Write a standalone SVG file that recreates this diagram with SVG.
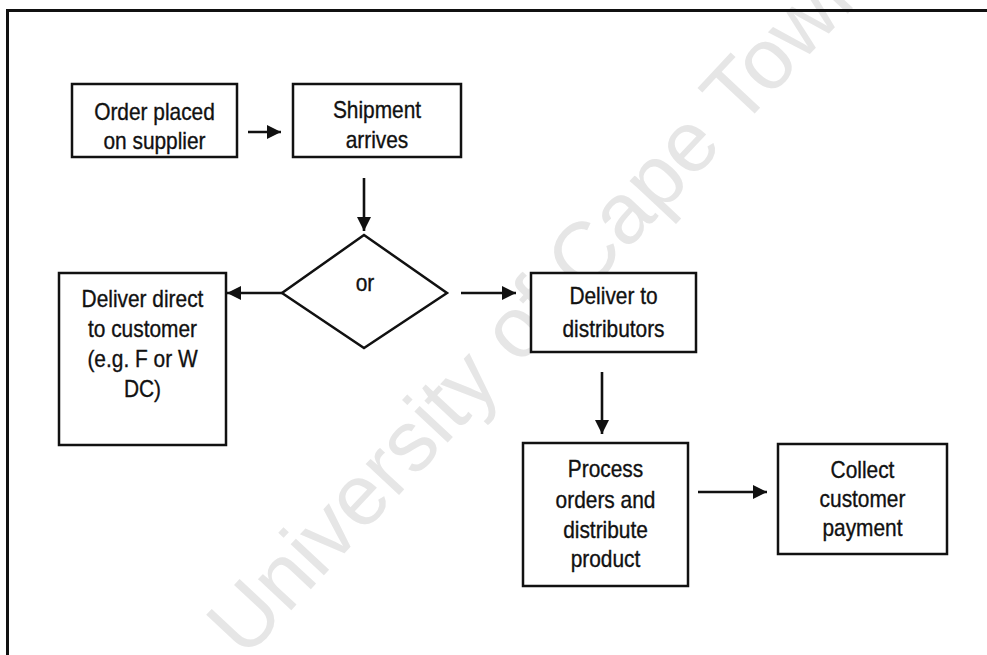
<svg xmlns="http://www.w3.org/2000/svg" width="987" height="655" viewBox="0 0 987 655">
<style>
.box{fill:#fff;stroke:#111;stroke-width:2.5}
.lbl{font-family:"Liberation Sans",Arial,sans-serif;font-size:24px;fill:#111;stroke:#111;stroke-width:0.35;text-anchor:middle}
.conn{stroke:#111;stroke-width:2.6;fill:none}
.wm{font-family:"Liberation Sans",Arial,sans-serif;font-size:86px;fill:#e6e6e6}
</style>
<defs>
<marker id="ah" viewBox="0 0 14 14" refX="14" refY="7" markerWidth="14" markerHeight="14" markerUnits="userSpaceOnUse" orient="auto">
<path d="M0,0 L14,7 L0,14 Z" fill="#111"/>
</marker>
</defs>
<rect x="0" y="0" width="987" height="655" fill="#fff"/>
<text class="wm" transform="translate(245,660) rotate(-47)">University of Cape Town</text>
<g id="frame">
<line x1="6" y1="10.5" x2="987" y2="10.5" stroke="#111" stroke-width="3"/>
<line x1="7.5" y1="9" x2="7.5" y2="655" stroke="#111" stroke-width="3"/>
</g>
<g id="connectors">
<line class="conn" x1="248" y1="132" x2="281" y2="132" marker-end="url(#ah)"/>
<line class="conn" x1="364" y1="178" x2="364" y2="231" marker-end="url(#ah)"/>
<line class="conn" x1="282" y1="293" x2="227" y2="293" marker-end="url(#ah)"/>
<line class="conn" x1="461" y1="293" x2="516" y2="293" marker-end="url(#ah)"/>
<line class="conn" x1="602" y1="372" x2="602" y2="434" marker-end="url(#ah)"/>
<line class="conn" x1="698" y1="492" x2="767" y2="492" marker-end="url(#ah)"/>
</g>
<g id="order">
<rect class="box" x="72" y="84" width="165" height="73"/>
<g transform="translate(154.5,0) scale(0.87,1)"><text class="lbl" x="0" y="120">Order placed</text><text class="lbl" x="0" y="149">on supplier</text></g>
</g>
<g id="shipment">
<rect class="box" x="293" y="84" width="168" height="73"/>
<g transform="translate(377,0) scale(0.87,1)"><text class="lbl" x="0" y="118">Shipment</text><text class="lbl" x="0" y="148">arrives</text></g>
</g>
<g id="decision">
<polygon class="box" points="364,235 447,293 364,348 282,293"/>
<g transform="translate(365,0) scale(0.87,1)"><text class="lbl" x="0" y="291">or</text></g>
</g>
<g id="direct">
<rect class="box" x="59" y="273" width="167" height="172"/>
<g transform="translate(142.5,0) scale(0.87,1)"><text class="lbl" x="0" y="307">Deliver direct</text><text class="lbl" x="0" y="337">to customer</text><text class="lbl" x="0" y="367">(e.g. F or W</text><text class="lbl" x="0" y="397">DC)</text></g>
</g>
<g id="distributors">
<rect class="box" x="531" y="273" width="165" height="79"/>
<g transform="translate(613.5,0) scale(0.87,1)"><text class="lbl" x="0" y="304">Deliver to</text><text class="lbl" x="0" y="337">distributors</text></g>
</g>
<g id="process">
<rect class="box" x="523" y="443" width="165" height="143"/>
<g transform="translate(605.5,0) scale(0.87,1)"><text class="lbl" x="0" y="477">Process</text><text class="lbl" x="0" y="508">orders and</text><text class="lbl" x="0" y="538">distribute</text><text class="lbl" x="0" y="567">product</text></g>
</g>
<g id="collect">
<rect class="box" x="778" y="444" width="169" height="110"/>
<g transform="translate(862.5,0) scale(0.87,1)"><text class="lbl" x="0" y="478">Collect</text><text class="lbl" x="0" y="507">customer</text><text class="lbl" x="0" y="536">payment</text></g>
</g>
</svg>
